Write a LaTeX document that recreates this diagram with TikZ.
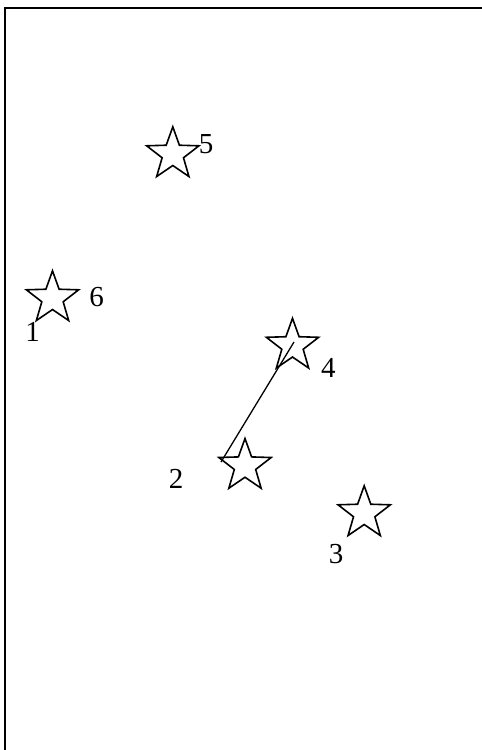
\documentclass[tikz,border=0pt]{standalone}
\usepackage{fontspec}
\setmainfont{Liberation Serif}
\usetikzlibrary{shapes.geometric}
\tikzset{
  starnode/.style={draw, shape=star, star points=5, star point ratio=2.45,
    minimum size=55pt, inner sep=0pt, line width=1.6pt},
  numlabel/.style={inner sep=0pt, font=\fontsize{29}{32}\selectfont},
  link/.style={line width=1.3pt}
}
\begin{document}
\begin{tikzpicture}[x=1pt,y=-1pt]
\useasboundingbox (0,0) rectangle (482,750);
\draw[line width=2.4pt] (5,7.7) rectangle (495,765);
\node[starnode] (s5) at (172.8,154.3) {};
\node[starnode] (s6) at (52.5,298.3) {};
\node[starnode] (s4) at (292.5,345.8) {};
\node[starnode] (s2) at (245,466) {};
\node[starnode] (s3) at (364.2,513.3) {};
\node[numlabel] (l5) at (206,144) {5};
\node[numlabel] (l6) at (96.7,296.7) {6};
\node[numlabel] (l1) at (32.5,331.7) {1};
\node[numlabel] (l4) at (328.3,368.3) {4};
\node[numlabel] (l2) at (176,479) {2};
\node[numlabel] (l3) at (336,554) {3};
\coordinate (a) at (221,462);
\coordinate (b) at (294,342);
\draw[link] (a) -- (b);
\end{tikzpicture}
\end{document}
